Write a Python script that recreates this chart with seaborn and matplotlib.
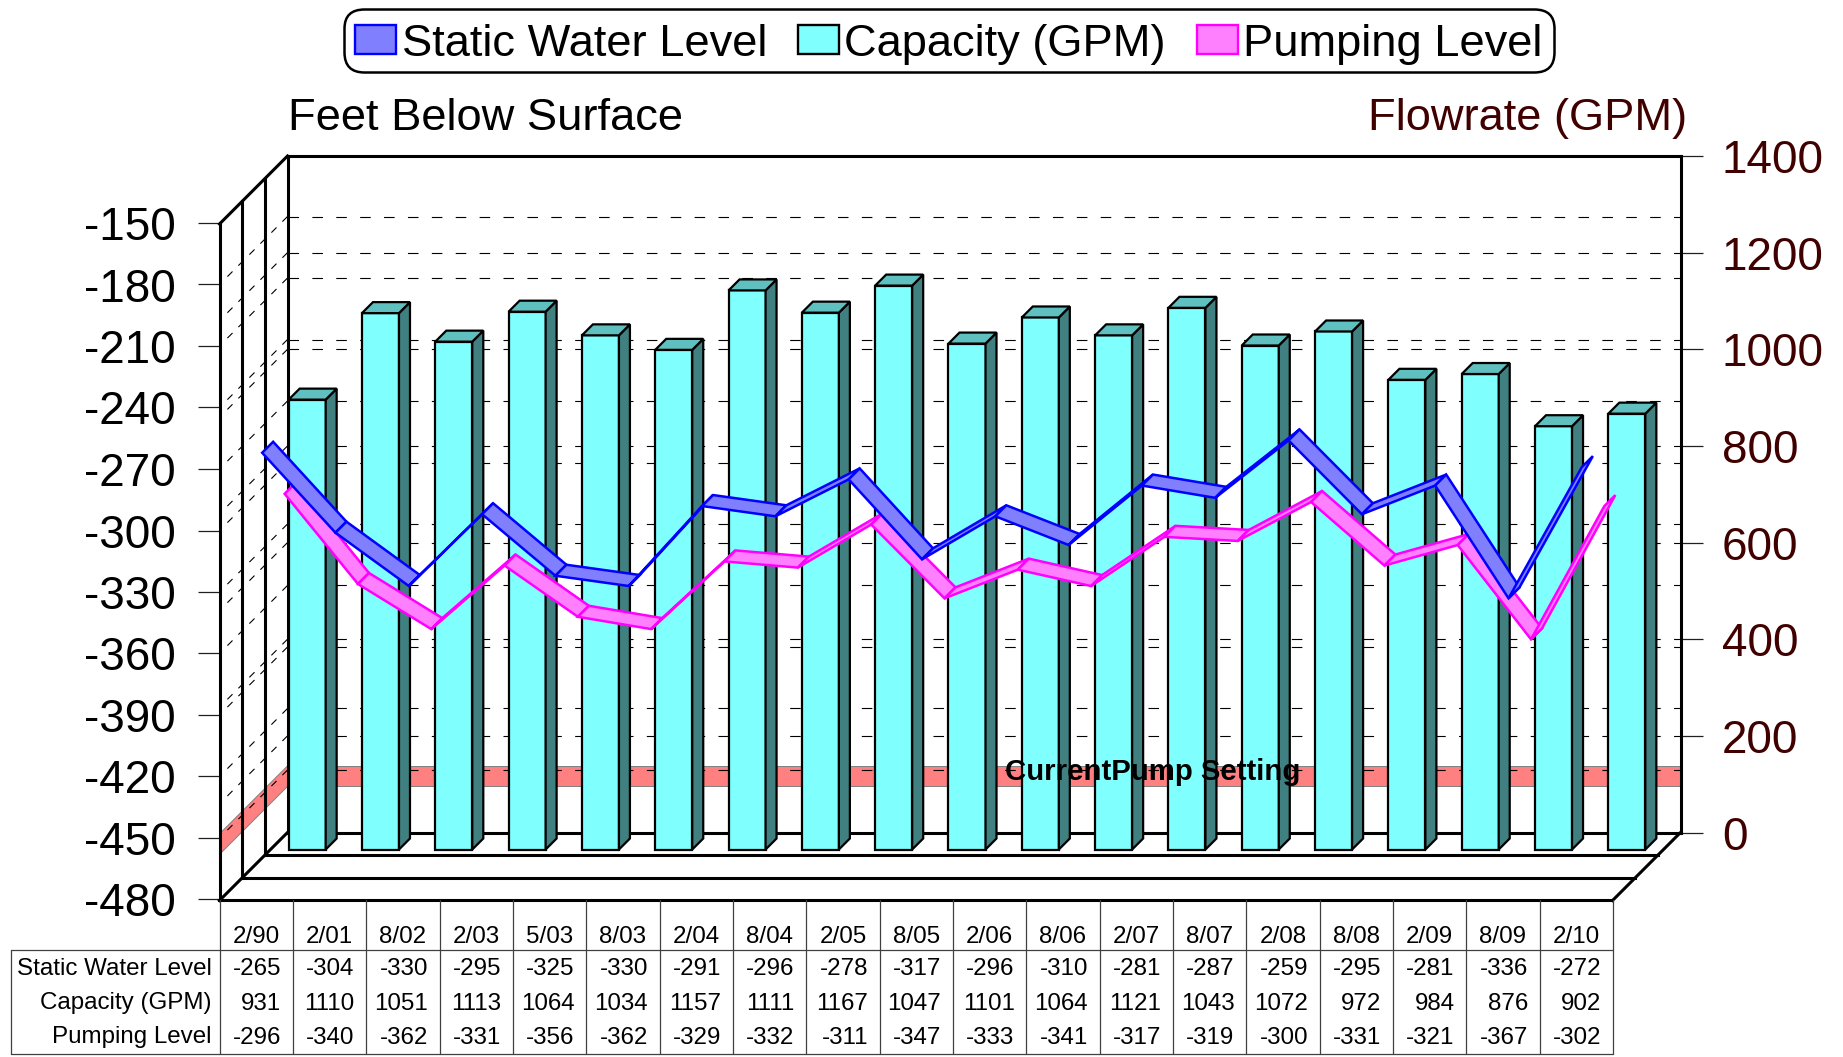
import matplotlib
matplotlib.use("Agg")
import matplotlib.pyplot as plt
import pandas as pd
import seaborn as sns
from matplotlib.patches import Patch, Polygon
from matplotlib.transforms import Affine2D, IdentityTransform

# --- data (as printed in the table under the chart) ---
dates = ['2/90', '2/01', '8/02', '2/03', '5/03', '8/03', '2/04', '8/04', '2/05', '8/05',
         '2/06', '8/06', '2/07', '8/07', '2/08', '8/08', '2/09', '8/09', '2/10']
static_level = [-265, -304, -330, -295, -325, -330, -291, -296, -278, -317,
                -296, -310, -281, -287, -259, -295, -281, -336, -272]
capacity = [931, 1110, 1051, 1113, 1064, 1034, 1157, 1111, 1167, 1047,
            1101, 1064, 1121, 1043, 1072, 972, 984, 876, 902]
pumping_level = [-296, -340, -362, -331, -356, -362, -329, -332, -311, -347,
                 -333, -341, -317, -319, -300, -331, -321, -367, -302]
level_ticks = [-150, -180, -210, -240, -270, -300, -330, -360, -390, -420, -450, -480]
flow_ticks = [0, 200, 400, 600, 800, 1000, 1200, 1400]
pump_top, pump_bottom = -448, -458

W, H = 1843, 1057
DEPTH = 68
BLACK = '#000000'
MAROON = '#400000'

sns.set_theme(style="white")
plt.rcParams['font.family'] = ['Liberation Sans', 'DejaVu Sans']
plt.rcParams['axes.unicode_minus'] = False
plt.rcParams['text.color'] = BLACK

fig = plt.figure(figsize=(W / 100, H / 100), dpi=100)


def rect(x0, x1, top, bottom):
    return [x0 / W, 1 - bottom / H, (x1 - x0) / W, (bottom - top) / H]


# back wall carries the flow scale, front plane the level scale
ax_back = fig.add_axes(rect(287.5, 1680.5, 156, 832.5), zorder=1)
ax_lvl = fig.add_axes(rect(219.5, 1612.5, 223, 899.5), zorder=2)
ax_lvl.patch.set_visible(False)

df = pd.DataFrame({'date': dates, 'capacity': capacity})
sns.barplot(data=df, x='date', y='capacity', ax=ax_back, color='#80FFFF', saturation=1,
            width=0.505, edgecolor=BLACK, linewidth=1.6)
bars = list(ax_back.patches)

for ax in (ax_back, ax_lvl):
    ax.set_xlim(-0.5, 18.5)
    ax.set_xticks([])
    ax.set_xlabel('')
    ax.set_ylabel('')
ax_back.set_ylim(0, 1400)
ax_lvl.set_ylim(-480, -150)


def project(ax, x, v, d=0):
    # data point pushed d pixels along the depth direction
    px, py = ax.transData.transform((x, v))
    return px + d, py + d


def seg(ax, a, b, **kw):
    ax.plot([a[0], b[0]], [a[1], b[1]], transform=IdentityTransform(), clip_on=False,
            scalex=False, scaley=False, **kw)


def poly(ax, pts, **kw):
    ax.add_patch(Polygon(pts, closed=True, transform=IdentityTransform(), clip_on=False, **kw))


# --- scales ---
ax_lvl.set_yticks(level_ticks)
ax_lvl.set_yticklabels([str(v) for v in level_ticks])
ax_lvl.tick_params(axis='y', left=True, length=15.8, width=0.9, color='#202020', pad=16,
                   labelsize=33, labelcolor=BLACK)
ax_back.yaxis.tick_right()
ax_back.set_yticks(flow_ticks)
ax_back.set_yticklabels([str(v) for v in flow_ticks])
ax_back.tick_params(axis='y', right=True, length=15.8, width=0.9, color='#202020', pad=14,
                    labelsize=33, labelcolor=MAROON)

for ax in (ax_back, ax_lvl):
    for s in ax.spines.values():
        s.set_color(BLACK)
        s.set_linewidth(2.2)
ax_lvl.spines['top'].set_visible(False)
ax_lvl.spines['right'].set_visible(False)

# --- pump setting band on the back and left walls ---
band = dict(facecolor='#FF8080', edgecolor='#808080', linewidth=0.7, zorder=1.2)
poly(ax_back, [project(ax_lvl, -0.5, pump_top, DEPTH), project(ax_lvl, 18.5, pump_top, DEPTH),
               project(ax_lvl, 18.5, pump_bottom, DEPTH), project(ax_lvl, -0.5, pump_bottom, DEPTH)],
     **band)
poly(ax_back, [project(ax_lvl, -0.5, pump_top, DEPTH), project(ax_lvl, -0.5, pump_top, 0),
               project(ax_lvl, -0.5, pump_bottom, 0), project(ax_lvl, -0.5, pump_bottom, DEPTH)],
     **band)

# --- dashed grid on both walls ---
grid_back = dict(color=BLACK, linewidth=0.8, linestyle=(0, (9.5, 12)), zorder=1.5)
grid_side = dict(color=BLACK, linewidth=0.8, linestyle=(0, (6.5, 7.5)), zorder=1.5)
for v in level_ticks[1:-1]:
    seg(ax_back, project(ax_lvl, -0.5, v, DEPTH), project(ax_lvl, 18.5, v, DEPTH), **grid_back)
    seg(ax_back, project(ax_lvl, -0.5, v, DEPTH), project(ax_lvl, -0.5, v, 0), **grid_side)
for v in flow_ticks[1:-1]:
    seg(ax_back, project(ax_back, -0.5, v), project(ax_back, 18.5, v), **grid_back)
    seg(ax_back, project(ax_back, -0.5, v), project(ax_back, -0.5, v, -DEPTH), **grid_side)

# --- side walls and floor lines ---
frame = dict(color=BLACK, linewidth=2.2, solid_capstyle='projecting', zorder=2)
for x, v in [(-0.5, 1400), (-0.5, 0), (18.5, 0)]:
    seg(ax_lvl, project(ax_back, x, v), project(ax_back, x, v, -DEPTH), **frame)
for d in (-DEPTH / 3, -2 * DEPTH / 3):
    seg(ax_lvl, project(ax_back, -0.5, 0, d), project(ax_back, 18.5, 0, d), **frame)
    seg(ax_lvl, project(ax_back, -0.5, 0, d), project(ax_back, -0.5, 1400, d), **frame)

# --- 3D bars, front face sits 17 px in front of the back wall ---
BAR_FRONT, BAR_BACK = -17, -6
edge = dict(edgecolor=BLACK, linewidth=1.6, joinstyle='miter', zorder=3)
for p in bars:
    x0, x1, top = p.get_x(), p.get_x() + p.get_width(), p.get_height()
    p.set_transform(ax_back.transData + Affine2D().translate(BAR_FRONT, BAR_FRONT))
    p.set_clip_on(False)
    p.set_zorder(3)
    poly(ax_back, [project(ax_back, x1, 0, BAR_FRONT), project(ax_back, x1, top, BAR_FRONT),
                   project(ax_back, x1, top, BAR_BACK), project(ax_back, x1, 0, BAR_BACK)],
         facecolor='#408080', **edge)
    poly(ax_back, [project(ax_back, x0, top, BAR_FRONT), project(ax_back, x1, top, BAR_FRONT),
                   project(ax_back, x1, top, BAR_BACK), project(ax_back, x0, top, BAR_BACK)],
         facecolor='#60C0C0', **edge)


# --- ribbons ---
def ribbon(values, d0, d1, face, line, z):
    for i in range(len(values) - 1):
        poly(ax_lvl, [project(ax_lvl, i, values[i], d0), project(ax_lvl, i + 1, values[i + 1], d0),
                      project(ax_lvl, i + 1, values[i + 1], d1), project(ax_lvl, i, values[i], d1)],
             facecolor=face, edgecolor=line, linewidth=1.8, joinstyle='miter', zorder=z)


ribbon(pumping_level, 28.5, 39.5, '#FF80FF', '#FF00FF', 4)
ribbon(static_level, 6, 17, '#8080FF', '#0000FF', 5)

# --- overlay in picture pixels for the texts and the table ---
pix = fig.add_axes([0, 0, 1, 1], zorder=5)
pix.set_xlim(0, W)
pix.set_ylim(H, 0)
pix.axis('off')

pix.text(288.5, 130, 'Feet Below Surface', fontsize=32.6, color=BLACK, va='baseline')
pix.text(1368, 130, 'Flowrate (GPM)', fontsize=32.6, color=MAROON, va='baseline')
pix.text(1005, 780, 'CurrentPump Setting', fontsize=21.2, fontweight='bold', color=BLACK,
         va='baseline')

handles = [Patch(facecolor='#8080FF', edgecolor='#0000FF', linewidth=1.7, label='Static Water Level'),
           Patch(facecolor='#80FFFF', edgecolor=BLACK, linewidth=1.7, label='Capacity (GPM)'),
           Patch(facecolor='#FF80FF', edgecolor='#FF00FF', linewidth=1.7, label='Pumping Level')]
leg = pix.legend(handles=handles, ncol=3, loc='upper left', bbox_to_anchor=(344, 8.5),
                 bbox_transform=pix.transData, borderaxespad=0, fontsize=32.6,
                 handlelength=0.9, handleheight=0.6, handletextpad=0.12, columnspacing=0.69,
                 borderpad=0.25, frameon=True, fancybox=True, framealpha=1, edgecolor=BLACK)
leg.get_frame().set_boxstyle('round', pad=0, rounding_size=0.44)
leg.get_frame().set_linewidth(1.8)
# the reference sits its legend entries a little lower in the box
for t in leg.get_texts():
    t.set_position((0, -4))
for h in leg.get_patches():
    h.set_y(h.get_y() - 2.5)

# --- data table ---
COL_W = (1613 - 219.5) / 19
TABLE_TOP, HEAD_LINE, TABLE_BOTTOM = 900, 950, 1054
table_line = dict(color='#404040', linewidth=0.9)
for i in range(20):
    x = 219.5 + COL_W * i
    pix.plot([x, x], [TABLE_TOP, TABLE_BOTTOM], **table_line)
pix.plot([10.5, 1613], [HEAD_LINE, HEAD_LINE], **table_line)
pix.plot([10.5, 1613], [TABLE_BOTTOM, TABLE_BOTTOM], **table_line)
pix.plot([10.5, 10.5], [HEAD_LINE, TABLE_BOTTOM], **table_line)

rows = [('Static Water Level', static_level, 975),
        ('Capacity (GPM)', capacity, 1009.5),
        ('Pumping Level', pumping_level, 1043.5)]
for i, d in enumerate(dates):
    pix.text(219.5 + COL_W * (i + 0.5), 943, d, fontsize=17.4, ha='center', va='baseline')
for label, values, y in rows:
    pix.text(212, y, label, fontsize=17.4, ha='right', va='baseline')
    for i, v in enumerate(values):
        pix.text(219.5 + COL_W * (i + 0.5) + 25, y, str(v), fontsize=17.4, ha='right', va='baseline')

plt.savefig('out.png', dpi=100)
